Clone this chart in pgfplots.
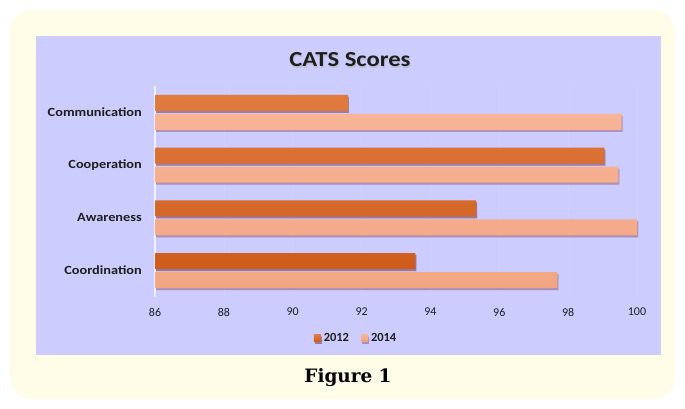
\documentclass[border=0pt]{standalone}
\usepackage{pgfplots}
\pgfplotsset{compat=1.18}
\usepackage{fontspec}
\setmainfont{Carlito}
\newfontfamily\widefont{Carlito}[FakeStretch=1.15]
\newfontfamily\figfont{DejaVu Serif}
\usetikzlibrary{shadows}
\definecolor{cream}{HTML}{FFFCE8}
\definecolor{lav}{HTML}{CCCCFF}
\definecolor{darkor}{HTML}{CF5C1C}
\definecolor{darkortop}{HTML}{E07B40}
\definecolor{lightor}{HTML}{F2A684}
\definecolor{lightortop}{HTML}{F7B496}
\definecolor{gridc}{HTML}{D1D1FF}
\definecolor{txt}{HTML}{1E1E1E}
\begin{document}
\begin{tikzpicture}[x=1bp,y=1bp]
\fill[white] (0,0) rectangle (685,-408);
\fill[cream, rounded corners=22bp] (10,-10) rectangle (675,-399);
\fill[lav] (36,-36) rectangle (661,-355);
\node[font=\widefont\bfseries\fontsize{21.5}{24}\selectfont, text=black!30, opacity=0.5] at (350.8,-61.5) {CATS Scores};
\node[font=\widefont\bfseries\fontsize{21.5}{24}\selectfont, text=txt] at (350,-60) {CATS Scores};
\node[font=\figfont\bfseries\fontsize{18.5}{22}\selectfont, text=black] at (348,-378) {Figure 1};
\begin{axis}[
  at={(155bp,-297bp)}, anchor=south west,
  scale only axis, width=482bp, height=211bp,
  xmin=86, xmax=100, ymin=-0.5, ymax=3.5,
  xbar, bar width=16bp,
  xtick={86,88,...,100},
  ytick={0,1,2,3},
  yticklabels={Coordination,Awareness,Cooperation,Communication},
  axis line style={draw=none},
  major tick length=0pt,
  xmajorgrids, grid style={draw=gridc, line width=0.5bp},
  extra x ticks={86}, extra x tick labels={},
  extra x tick style={grid style={draw=white!70!lav, line width=1.2bp}},
  /pgf/number format/assume math mode=true,
  xticklabel style={font=\fontsize{12}{14}\selectfont, text=txt, anchor=north, inner sep=0pt, yshift=-11bp},
  yticklabel style={font=\widefont\bfseries\fontsize{12.5}{15}\selectfont, text=txt, anchor=east, inner sep=0pt, xshift=-13bp},
  legend style={at={(0.415,-0.195)}, anchor=center, draw=none, fill=none,
    legend columns=2, font=\bfseries\fontsize{12.5}{14}\selectfont, text=txt,
    /tikz/every even column/.append style={column sep=12bp},
    inner sep=0pt, nodes={inner sep=0pt}},
  legend image code/.code={\fill[#1] (0bp,-3.5bp) rectangle (7bp,3.5bp); \path (0bp,0bp) -- (10bp,0bp);},
  clip=false,
]
\addplot[bar shift=9.5bp, draw=none, top color=darkortop, bottom color=darkor,
  drop shadow={shadow xshift=1bp, shadow yshift=-2bp, fill=black!50!blue, opacity=0.35}]
  coordinates {(93.56,0) (95.33,1) (99.05,2) (91.6,3)};
\addplot[bar shift=-9.5bp, draw=none, top color=lightortop, bottom color=lightor,
  drop shadow={shadow xshift=1bp, shadow yshift=-2bp, fill=black!50!blue, opacity=0.35}]
  coordinates {(97.69,0) (100,1) (99.46,2) (99.55,3)};
\legend{2012,2014}
\end{axis}
\end{tikzpicture}
\end{document}
